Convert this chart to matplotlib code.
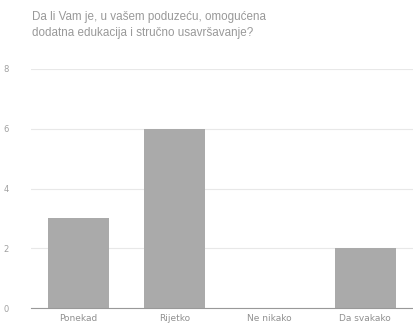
import matplotlib.pyplot as plt

categories = ['Ponekad', 'Rijetko', 'Ne nikako', 'Da svakako']
values = [3, 6, 0, 2]
y_ticks = [0, 2, 4, 6, 8]
title = 'Da li Vam je, u vašem poduzeću, omogućena\ndodatna edukacija i stručno usavršavanje?'

fig = plt.figure(figsize=(4.13, 3.27), dpi=100)
ax = fig.add_axes([0.075, 0.058, 0.925, 0.731])

ax.bar(range(len(categories)), values, width=0.64, color='#aaaaaa', zorder=2)

ax.set_xlim(-0.5, len(categories) - 0.5)
ax.set_ylim(0, 8)
ax.set_yticks(y_ticks)
ax.set_xticks(range(len(categories)))
ax.set_xticklabels(categories, fontsize=6.5, color='#909090')
ax.tick_params(axis='y', labelsize=6, colors='#a0a0a0', length=0, pad=16)
ax.tick_params(axis='x', length=0, pad=4)

ax.grid(axis='y', color='#e8e8e8', linewidth=0.8, zorder=0)
for s in ['top', 'right', 'left']:
    ax.spines[s].set_visible(False)
ax.spines['bottom'].set_color('#999999')
ax.spines['bottom'].set_linewidth(0.8)

fig.text(0.078, 0.965, title, fontsize=8.4, color='#999999', va='top', ha='left',
         linespacing=1.4, family='Liberation Sans')

fig.savefig('out.png', dpi=100, facecolor='white')
